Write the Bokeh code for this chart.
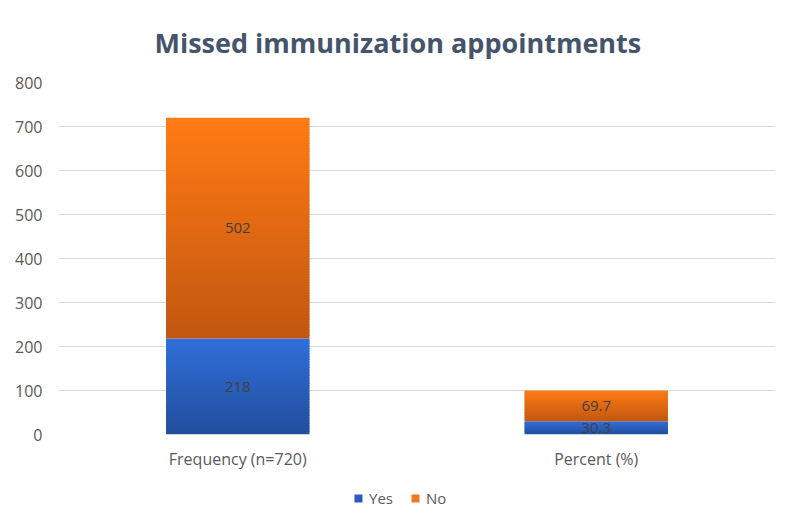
from bokeh.plotting import figure
from bokeh.models import Range1d, Legend, LegendItem, ColumnDataSource, FactorRange
from bokeh.layouts import column
from bokeh.core.properties import value
from bokeh.embed import file_html
from bokeh.resources import INLINE

categories = ["Frequency (n=720)", "Percent (%)"]
yes_vals = [218, 30.3]
no_vals = [502, 69.7]
yes_labels = ["218", "30.3"]
no_labels = ["502", "69.7"]
y_ticks = [0, 100, 200, 300, 400, 500, 600, 700, 800]

FONT = "Open Sans"
BAR_W = 0.4
STEP = 6.0  # data units per gradient slice

# gradient ends (bottom dark -> top bright)
YES_BOTTOM = (0x22, 0x4E, 0x9C)
YES_TOP = (0x30, 0x6E, 0xDA)
NO_BOTTOM = (0xC2, 0x57, 0x10)
NO_TOP = (0xFF, 0x7B, 0x14)


def mix(c0, c1, t):
    return "#%02x%02x%02x" % tuple(int(round(a + (b - a) * t)) for a, b in zip(c0, c1))


p = figure(
    x_range=FactorRange(*categories),
    y_range=Range1d(0, 800),
    width=784, height=475,
    output_backend="svg", toolbar_location=None,
    min_border_left=58, min_border_right=9, min_border_top=82, min_border_bottom=41,
)
p.x_range.range_padding = 0.0

p.title.text = "Missed immunization appointments"
p.title.align = "left"
p.title.offset = 96
p.title.standoff = 43
p.title.text_font = FONT
p.title.text_font_size = "27px"
p.title.text_font_style = "bold"
p.title.text_color = "#44546A"

# gradient slices for each stacked segment (slightly overlapping to hide seams)
xs, bottoms, tops, colors = [], [], [], []
for cat, yv, nv in zip(categories, yes_vals, no_vals):
    for base, val, c0, c1 in ((0, yv, YES_BOTTOM, YES_TOP), (yv, nv, NO_BOTTOM, NO_TOP)):
        n = max(4, int(round(val / STEP)))
        step = val / n
        for i in range(n):
            xs.append(cat)
            bottoms.append(base + step * i)
            extra = step * 0.6 if i < n - 1 else 0
            tops.append(base + step * (i + 1) + extra)
            colors.append(mix(c0, c1, (i + 0.5) / n))

src = ColumnDataSource(dict(x=xs, bottom=bottoms, top=tops, color=colors))
p.vbar(x="x", bottom="bottom", top="top", width=BAR_W, source=src,
       fill_color="color", line_color=None)

# data labels
lab_x, lab_y, lab_t = [], [], []
for cat, yv, nv, yl, nl in zip(categories, yes_vals, no_vals, yes_labels, no_labels):
    lab_x += [cat, cat]
    lab_y += [yv / 2, yv + nv / 2]
    lab_t += [yl, nl]
p.text(x=lab_x, y=lab_y, text=lab_t, text_align="center", text_baseline="middle",
       text_font=value(FONT), text_font_size="15px", text_color="#404040")

# axes & grid
p.yaxis.ticker = y_ticks
p.yaxis.axis_line_color = None
p.yaxis.major_tick_line_color = None
p.yaxis.minor_tick_line_color = None
p.yaxis.major_label_text_font = FONT
p.yaxis.major_label_text_font_size = "16px"
p.yaxis.major_label_text_color = "#595959"
p.yaxis.major_label_standoff = 10

p.xaxis.axis_line_color = None
p.xaxis.major_tick_line_color = None
p.xaxis.major_label_text_font = FONT
p.xaxis.major_label_text_font_size = "16px"
p.xaxis.major_label_text_color = "#595959"
p.xaxis.major_label_standoff = 7

p.xgrid.grid_line_color = None
p.ygrid.grid_line_color = "#D9D9D9"
p.ygrid.grid_line_width = 1
p.outline_line_color = None

# legend strip below the chart (its frame is aligned with the chart frame)
q = figure(width=784, height=40, x_range=Range1d(0, 1), y_range=Range1d(0, 1),
           output_backend="svg", toolbar_location=None,
           x_axis_location=None, y_axis_location=None,
           min_border_left=0, min_border_right=0, min_border_top=6, min_border_bottom=0)
q.grid.grid_line_color = None
q.outline_line_color = None
r_yes = q.vbar(x=[0.5], bottom=[0], top=[0], width=0.1, fill_color="#2A5BC0", line_color=None)
r_no = q.vbar(x=[0.5], bottom=[0], top=[0], width=0.1, fill_color="#EE7B1F", line_color=None)
legend = Legend(items=[LegendItem(label="Yes", renderers=[r_yes]),
                       LegendItem(label="No", renderers=[r_no])],
                orientation="horizontal", location=(295, 7),
                border_line_color=None, background_fill_alpha=0,
                label_text_font=FONT, label_text_font_size="15px", label_text_color="#595959",
                glyph_width=10, glyph_height=10, spacing=17, label_standoff=6,
                margin=0, padding=2)
q.add_layout(legend)

open("out.html", "w").write(file_html(column(p, q, spacing=0), INLINE))
